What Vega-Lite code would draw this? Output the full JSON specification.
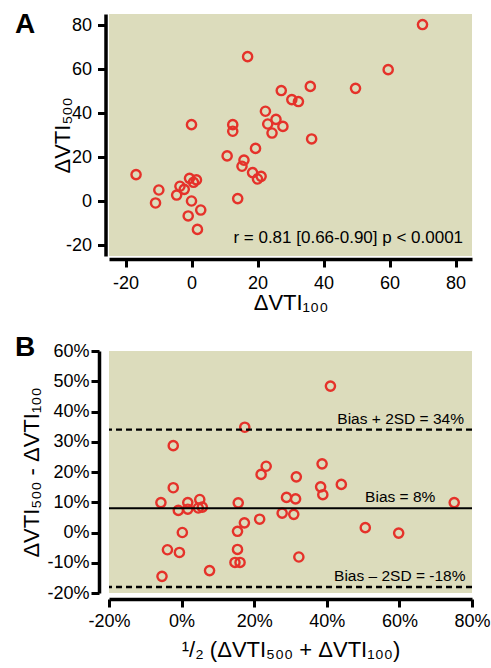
{
  "$schema": "https://vega.github.io/schema/vega-lite/v6.json",
  "padding": {"left": 15, "top": 11, "right": 5, "bottom": 5},
  "spacing": 21,
  "config": {
    "font": "Liberation Sans",
    "view": {"stroke": null},
    "axis": {
      "grid": false,
      "domainColor": "black",
      "domainWidth": 3.5,
      "tickColor": "black",
      "tickWidth": 3,
      "tickSize": 8,
      "labelColor": "black",
      "labelFontSize": 18,
      "labelFont": "Liberation Sans",
      "labelOverlap": false,
      "labelFlush": false,
      "titleColor": "black",
      "titleFont": "Liberation Sans",
      "titleFontSize": 22,
      "titleFontWeight": "normal"
    },
    "title": {"offset": 0}
  },
  "vconcat": [
    {
      "width": 363,
      "height": 242,
      "title": {"text": "A", "anchor": "start", "frame": "group", "fontSize": 28, "fontWeight": "bold", "color": "black", "dx": -94, "dy": 22, "offset": -25, "baseline": "alphabetic"},
      "view": {"fill": "#dcdcbc", "stroke": null},
      "layer": [
        {
          "data": {"values": [
            {"x": 70.0, "y": 80.2}, {"x": 17.0, "y": 65.6}, {"x": 59.6, "y": 59.7}, {"x": 49.7, "y": 51.2},
            {"x": 36.0, "y": 52.1}, {"x": 27.2, "y": 50.2}, {"x": 30.4, "y": 46.1}, {"x": 32.4, "y": 45.2},
            {"x": 22.4, "y": 40.8}, {"x": 25.6, "y": 37.1}, {"x": 23.1, "y": 35.0}, {"x": 27.7, "y": 33.9},
            {"x": 24.4, "y": 30.9}, {"x": 36.4, "y": 28.2}, {"x": 0.0, "y": 34.7}, {"x": 12.5, "y": 34.7},
            {"x": 12.5, "y": 31.7}, {"x": 19.4, "y": 23.9}, {"x": 10.8, "y": 20.5}, {"x": 15.9, "y": 18.6},
            {"x": 15.3, "y": 15.8}, {"x": 18.5, "y": 12.9}, {"x": 21.1, "y": 11.2}, {"x": 20.0, "y": 10.0},
            {"x": 14.0, "y": 1.1}, {"x": -16.8, "y": 12.0}, {"x": -9.9, "y": 5.0}, {"x": -10.9, "y": -0.9},
            {"x": -4.5, "y": 2.7}, {"x": -3.5, "y": 6.7}, {"x": -2.2, "y": 5.3}, {"x": -0.6, "y": 10.3},
            {"x": 0.6, "y": 8.5}, {"x": 1.5, "y": 9.6}, {"x": 0.0, "y": 0.0}, {"x": 2.8, "y": -4.1},
            {"x": -1.0, "y": -6.8}, {"x": 1.8, "y": -12.9}
          ]},
          "mark": {"type": "point", "shape": "circle", "filled": false, "stroke": "#e5322a", "strokeWidth": 2.4, "size": 85, "opacity": 1},
          "encoding": {
            "x": {"field": "x", "type": "quantitative",
              "scale": {"domain": [-25, 85], "nice": false, "zero": false},
              "axis": {"values": [-20, 0, 20, 40, 60, 80], "offset": 3, "title": "ΔVTI₁₀₀", "labelExpr": "(datum.value < 0 ? '-' : '') + abs(datum.value)", "labelPadding": 7, "titlePadding": 0}},
            "y": {"field": "y", "type": "quantitative",
              "scale": {"domain": [-25, 85], "nice": false, "zero": false},
              "axis": {"values": [-20, 0, 20, 40, 60, 80], "offset": 3.5, "title": "ΔVTI₅₀₀", "labelExpr": "(datum.value < 0 ? '-' : '') + abs(datum.value)", "labelPadding": 6, "titlePadding": -9}}
          }
        },
        {
          "data": {"values": [{"label": "r = 0.81 [0.66-0.90] p < 0.0001"}]},
          "mark": {"type": "text", "align": "right", "baseline": "alphabetic", "fontSize": 17, "color": "black"},
          "encoding": {
            "x": {"datum": 82.3, "type": "quantitative"},
            "y": {"datum": -19.3, "type": "quantitative"},
            "text": {"field": "label"}
          }
        }
      ]
    },
    {
      "width": 363,
      "height": 242,
      "title": {"text": "B", "anchor": "start", "frame": "group", "fontSize": 28, "fontWeight": "bold", "color": "black", "dx": -94, "dy": 14, "offset": -28, "baseline": "alphabetic"},
      "view": {"fill": "#dcdcbc", "stroke": null},
      "layer": [
        {
          "data": {"values": [
            {"mean": 41.0, "diff": 48.4}, {"mean": 17.4, "diff": 34.8}, {"mean": -2.3, "diff": 28.7}, {"mean": 23.3, "diff": 21.9},
            {"mean": 21.9, "diff": 19.2}, {"mean": 38.7, "diff": 22.7}, {"mean": 31.6, "diff": 18.4}, {"mean": 44.0, "diff": 15.9},
            {"mean": 38.3, "diff": 15.1}, {"mean": 38.9, "diff": 12.5}, {"mean": 28.9, "diff": 11.6}, {"mean": 31.4, "diff": 11.1},
            {"mean": -2.3, "diff": 14.8}, {"mean": -5.7, "diff": 9.9}, {"mean": -0.9, "diff": 7.3}, {"mean": 1.7, "diff": 9.9},
            {"mean": 1.7, "diff": 7.7}, {"mean": 5.0, "diff": 10.9}, {"mean": 4.6, "diff": 8.1}, {"mean": 5.7, "diff": 8.4},
            {"mean": 15.6, "diff": 9.8}, {"mean": 75.1, "diff": 9.9}, {"mean": 21.5, "diff": 4.4}, {"mean": 17.3, "diff": 3.2},
            {"mean": 27.7, "diff": 6.4}, {"mean": 30.9, "diff": 6.0}, {"mean": 0.2, "diff": 0.0}, {"mean": 15.4, "diff": 0.4},
            {"mean": 50.6, "diff": 1.6}, {"mean": 59.8, "diff": -0.2}, {"mean": -3.9, "diff": -5.7}, {"mean": -0.6, "diff": -6.6},
            {"mean": 15.4, "diff": -5.6}, {"mean": 32.3, "diff": -8.1}, {"mean": 14.7, "diff": -9.9}, {"mean": 16.1, "diff": -9.9},
            {"mean": 7.7, "diff": -12.6}, {"mean": -5.4, "diff": -14.5}
          ]},
          "mark": {"type": "point", "shape": "circle", "filled": false, "stroke": "#e5322a", "strokeWidth": 2.4, "size": 85, "opacity": 1},
          "encoding": {
            "x": {"field": "mean", "type": "quantitative",
              "scale": {"domain": [-20, 80], "nice": false, "zero": false},
              "axis": {"values": [-20, 0, 20, 40, 60, 80], "tickCount": 10, "offset": 6, "labelExpr": "(datum.value < 0 ? '-' : '') + abs(datum.value) + '%'", "title": "¹/₂ (ΔVTI₅₀₀ + ΔVTI₁₀₀)", "labelPadding": 5, "titlePadding": 9}},
            "y": {"field": "diff", "type": "quantitative",
              "scale": {"domain": [-20, 60], "nice": false, "zero": false},
              "axis": {"values": [-20, -10, 0, 10, 20, 30, 40, 50, 60], "tickCount": 10, "offset": 10, "labelExpr": "(datum.value < 0 ? '-' : '') + abs(datum.value) + '%'", "title": "ΔVTI₅₀₀ - ΔVTI₁₀₀", "labelPadding": 2, "titlePadding": 3}}
          }
        },
        {
          "data": {"values": [
            {"line": "bias", "value": 8, "label": "Bias = 8%", "pos": 69.9},
            {"line": "upper", "value": 34, "label": "Bias + 2SD = 34%", "pos": 77.8},
            {"line": "lower", "value": -18, "label": "Bias – 2SD = -18%", "pos": 78.2}
          ]},
          "layer": [
            {
              "mark": {"type": "rule", "color": "black"},
              "encoding": {
                "y": {"field": "value", "type": "quantitative"},
                "strokeDash": {"field": "line", "type": "nominal", "scale": {"domain": ["bias", "upper", "lower"], "range": [[1, 0], [6, 4], [6, 4]]}, "legend": null},
                "strokeWidth": {"field": "line", "type": "nominal", "scale": {"domain": ["bias", "upper", "lower"], "range": [2, 2.5, 2.5]}, "legend": null}
              }
            },
            {
              "mark": {"type": "text", "align": "right", "baseline": "alphabetic", "fontSize": 15.5, "dy": -6, "color": "black"},
              "encoding": {
                "x": {"field": "pos", "type": "quantitative"},
                "y": {"field": "value", "type": "quantitative"},
                "text": {"field": "label"}
              }
            }
          ]
        }
      ]
    }
  ]
}
